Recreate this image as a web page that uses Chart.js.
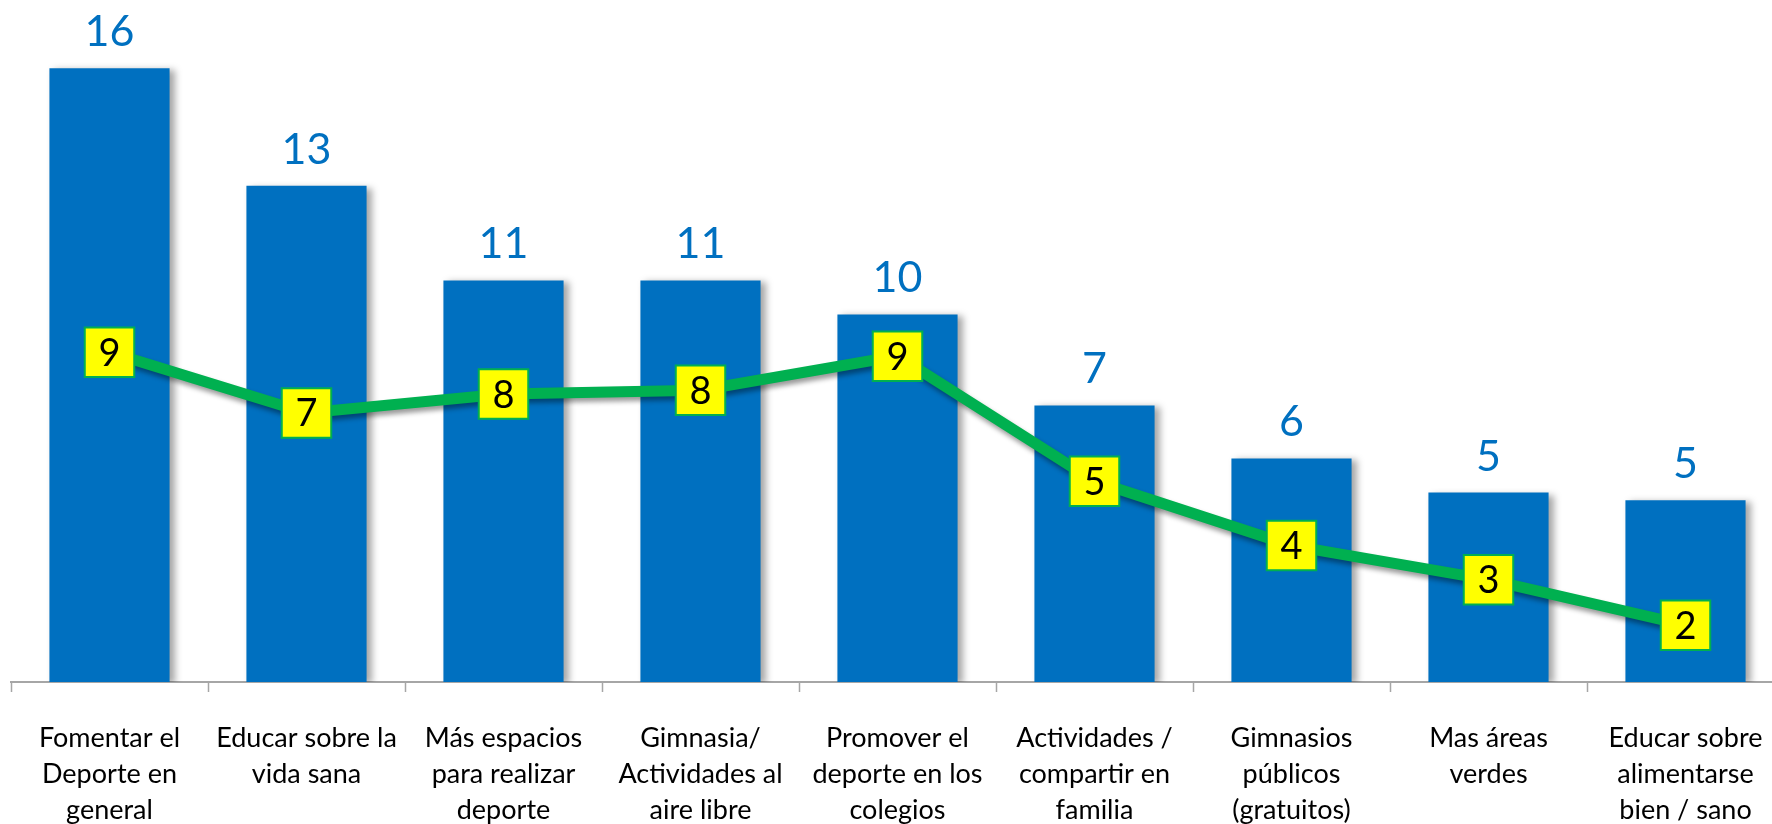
<!DOCTYPE html>
<html>
<head>
<meta charset="utf-8">
<script src="https://cdn.jsdelivr.net/npm/chart.js"></script>
<style>
  html, body { margin: 0; padding: 0; background: #fff; overflow: hidden; }
  #box { position: absolute; left: 0; top: 0; width: 1784px; height: 856px; }
</style>
</head>
<body>
<div id="box"><canvas id="chart"></canvas></div>
<script>
// DATA
const categories = [
  ['Fomentar el', 'Deporte en', 'general'],
  ['Educar sobre la', 'vida sana'],
  ['Más espacios', 'para realizar', 'deporte'],
  ['Gimnasia/', 'Actividades al', 'aire libre'],
  ['Promover el', 'deporte en los', 'colegios'],
  ['Actividades /', 'compartir en', 'familia'],
  ['Gimnasios', 'públicos', '(gratuitos)'],
  ['Mas áreas', 'verdes'],
  ['Educar sobre', 'alimentarse', 'bien / sano']
];
const barValues = [16.2, 13.1, 10.6, 10.6, 9.7, 7.3, 5.9, 5.0, 4.8];
const lineValues = [8.7, 7.1, 7.6, 7.7, 8.6, 5.3, 3.6, 2.7, 1.5];

const FONT = "Lato, 'Open Sans', sans-serif";
const BLUE = '#0070C0';
const GREEN = '#00B050';

// shadows: bars get a soft drop shadow, the line only on its stroke
const shadowPlugin = {
  id: 'shadows',
  beforeDatasetDraw(chart, args) {
    const { ctx } = chart;
    const meta = args.meta;
    if (meta.type === 'bar') {
      ctx.save();
      ctx.shadowColor = 'rgba(0,0,0,0.35)';
      ctx.shadowBlur = 7;
      ctx.shadowOffsetX = 5;
      ctx.shadowOffsetY = 2;
    } else if (meta.type === 'line' && meta.dataset && !meta.dataset._shadowed) {
      const el = meta.dataset;
      const orig = el.draw;
      el.draw = function (c, area) {
        c.save();
        c.shadowColor = 'rgba(0,0,0,0.4)';
        c.shadowBlur = 5;
        c.shadowOffsetX = 2;
        c.shadowOffsetY = 4;
        orig.call(this, c, area);
        c.restore();
      };
      el._shadowed = true;
    }
  },
  afterDatasetDraw(chart, args) {
    if (args.meta.type === 'bar') chart.ctx.restore();
  }
};

// value labels
const labelPlugin = {
  id: 'valueLabels',
  afterDatasetsDraw(chart) {
    const { ctx } = chart;
    chart.data.datasets.forEach((ds, i) => {
      const meta = chart.getDatasetMeta(i);
      meta.data.forEach((el, j) => {
        const txt = String(Math.round(ds.data[j]));
        ctx.save();
        ctx.textAlign = 'center';
        ctx.textBaseline = 'alphabetic';
        if (meta.type === 'bar') {
          ctx.font = '43px ' + FONT;
          ctx.fillStyle = BLUE;
          ctx.fillText(txt, el.x, el.y - 22);
        } else {
          ctx.font = '38px ' + FONT;
          ctx.fillStyle = '#000';
          ctx.fillText(txt, el.x, el.y + 13.5);
        }
        ctx.restore();
      });
    });
  }
};

const config = {
  type: 'bar',
  data: {
    labels: categories,
    datasets: [
      {
        type: 'line',
        data: lineValues,
        order: 0,
        borderColor: GREEN,
        borderWidth: 11,
        tension: 0,
        pointStyle: 'rect',
        pointRadius: 35,
        pointBackgroundColor: '#FFFF00',
        pointBorderColor: GREEN,
        pointBorderWidth: 2
      },
      {
        type: 'bar',
        data: barValues,
        order: 1,
        backgroundColor: BLUE,
        categoryPercentage: 1,
        barPercentage: 0.61
      }
    ]
  },
  options: {
    responsive: true,
    maintainAspectRatio: false,
    animation: false,
    layout: { autoPadding: false, padding: { left: 11, right: 0, top: 0, bottom: 0 } },
    plugins: {
      legend: { display: false },
      tooltip: { enabled: false }
    },
    scales: {
      y: { display: false, min: 0, max: 18 },
      x: {
        border: { display: true, color: '#A6A6A6', width: 2 },
        grid: {
          offset: true,
          drawOnChartArea: false,
          drawTicks: true,
          tickLength: 10,
          tickWidth: 1.5,
          tickColor: '#A6A6A6'
        },
        ticks: {
          autoSkip: false,
          maxRotation: 0,
          minRotation: 0,
          padding: 28,
          color: '#000',
          font: { family: FONT, size: 27, lineHeight: 36 / 27 }
        },
        afterFit(scale) {
          scale.paddingLeft = 0;
          scale.paddingRight = 0;
        }
      }
    }
  },
  plugins: [shadowPlugin, labelPlugin]
};

new Chart(document.getElementById('chart'), config);
</script>
</body>
</html>
